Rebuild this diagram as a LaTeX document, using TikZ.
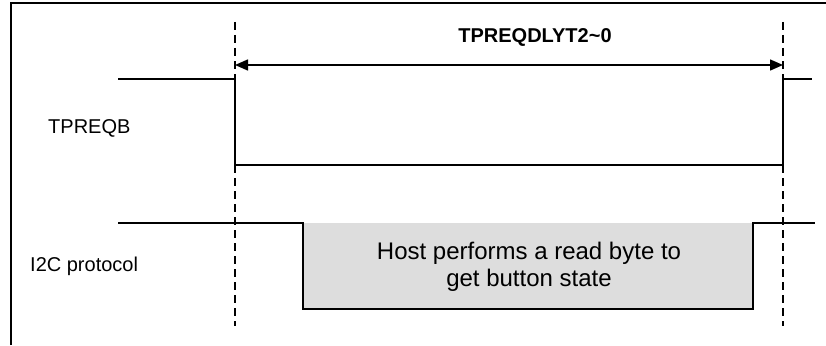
\documentclass[tikz,border=0pt]{standalone}
\usepackage{fontspec}
\setmainfont{Liberation Sans}
\usetikzlibrary{arrows.meta}

\definecolor{busygray}{RGB}{221,221,221}

\begin{document}
\begin{tikzpicture}[x=1pt,y=-1pt,
	signal/.style={line width=1.3pt,line join=miter},
	marker/.style={line width=1.1pt,dash pattern=on 8pt off 5pt},
	lbl/.style={font=\fontsize{20}{24}\selectfont,inner sep=0pt}]
	\useasboundingbox (0,0) rectangle (826,345);
	% frame (top and left only)
	\draw[line width=2.5pt] (11,345) -- (11,3) -- (826,3);
	% delay markers
	\coordinate (t0) at (235,65);
	\coordinate (t1) at (783,65);
	\draw[marker] (235,22) -- (235,326);
	\draw[marker] (783,22) -- (783,326);
	\draw[line width=1.5pt,{Triangle[length=13pt,width=11pt]}-{Triangle[length=13pt,width=11pt]}] (t0) -- (t1);
	\node[lbl,font=\fontsize{20}{24}\selectfont\bfseries] (dly) at (535,37) {TPREQDLYT2\textasciitilde0};
	% TPREQB
	\draw[signal] (118,79) -- (235,79) -- (235,165) -- (783,165) -- (783,79) -- (812,79);
	\node[lbl,anchor=west] (tpreqb) at (48,128) {TPREQB};
	% I2C protocol
	\fill[busygray] (303,223) rectangle (753,309);
	\draw[signal] (118,223) -- (303,223) -- (303,309) -- (753,309) -- (753,223) -- (815,223);
	\node[lbl,anchor=west] (i2c) at (30,266) {I2C protocol};
	\node[font=\fontsize{24}{27}\selectfont,align=center,inner sep=0pt] (host) at (529,267)
		{Host performs a read byte to\\get button state};
\end{tikzpicture}
\end{document}
